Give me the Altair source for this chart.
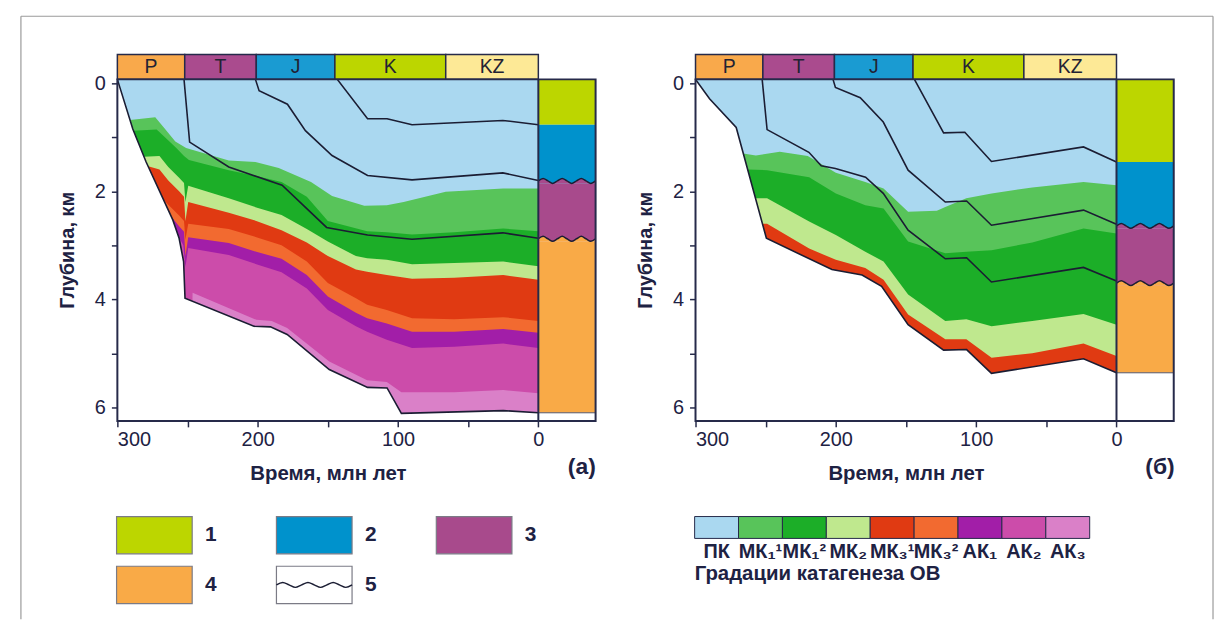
import altair as alt
import pandas as pd

# ----------------------------------------------------------------- axes extents
T_MAX = 300.0      # Ma, left end of time axis
T_COL = -40.8      # right edge of the stratigraphic column (in Ma units)
D_TOP = -0.07      # km, top edge of the depth axis (surface)
D_BOT = 6.25       # km, bottom edge of the depth axis
AMP = 0.045        # km, half-height of the wavy unconformity line

# ----------------------------------------------------------------- periods
PERIODS = ["P", "T", "J", "K", "KZ"]
PERIOD_FROM = [300, 252, 201, 145, 66]
PERIOD_TO = [252, 201, 145, 66, 0]
PERIOD_COLORS = ["#f9a94b", "#aa4b8e", "#1a9bd2", "#bcd600", "#fde996"]

# ----------------------------------------------------------------- catagenesis grades
ZONES = ["ПК", "МК₁¹", "МК₁²", "МК₂", "МК₃¹", "МК₃²", "АК₁", "АК₂", "АК₃"]
ZONE_COLORS = ["#aad8f0", "#58c45a", "#1cae28", "#bfe88e", "#e03a12",
               "#f26a30", "#a21ea8", "#cc4caa", "#da80c8"]

# ----------------------------------------------------------------- lithology legend
UNIT_LABELS = ["1", "2", "3", "4", "5"]
UNIT_COLORS = ["#bcd600", "#0092cc", "#a84a8c", "#f9aa47", "#ffffff"]

# ----------------------------------------------------------------- panel (а)
A_BASE_P = [(300, D_TOP), (289, 0.85), (279.5, 1.46), (260.5, 2.53), (256, 2.87),
            (252.8, 3.3), (251.8, 3.98), (202.7, 4.5), (190.9, 4.51), (179, 4.65),
            (149, 5.3), (121.7, 5.63), (107.8, 5.64), (97.6, 6.11), (25, 6.06), (0, 6.1)]
A_BASE_T = [(252.5, D_TOP), (248.5, 1.09), (220.6, 1.55), (182.6, 1.89), (150.9, 2.67),
            (121.7, 2.81), (90, 2.89), (25.3, 2.77), (0, 2.87)]
A_BASE_J = [(201.6, D_TOP), (199, 0.14), (178.8, 0.39), (166, 0.88), (147, 1.34),
            (121.7, 1.71), (90, 1.79), (25.3, 1.66), (0, 1.8)]
A_BASE_K = [(143.3, D_TOP), (121.7, 0.66), (107.8, 0.66), (90, 0.77), (25.3, 0.69), (0, 0.77)]
A_ZONE_TOPS = [
    [(300, D_TOP), (0, D_TOP)],
    [(291, 0.68), (273, 0.63), (266, 0.85), (258.7, 1.08), (251, 1.2), (220.6, 1.43),
     (201.6, 1.46), (185, 1.57), (162, 1.83), (147, 2.09), (124, 2.27), (108, 2.26),
     (96, 2.2), (66, 2.01), (25, 1.95), (0, 1.95)],
    [(288.6, 0.88), (272, 0.86), (264, 1.05), (258, 1.2), (252.5, 1.35), (249, 1.42),
     (220.6, 1.61), (201, 1.72), (183, 1.83), (165, 2.1), (150, 2.55), (122, 2.74),
     (108, 2.76), (90, 2.8), (60, 2.76), (25, 2.69), (0, 2.74)],
    [(281, 1.36), (270, 1.35), (263.7, 1.55), (256, 1.75), (252.5, 1.85), (251.5, 2.2),
     (249.5, 1.9), (220.6, 2.13), (201, 2.3), (183, 2.44), (165, 2.7), (150, 2.93),
     (130, 3.2), (122, 3.24), (108, 3.27), (90, 3.35), (60, 3.33), (25, 3.3), (0, 3.39)],
    [(278, 1.54), (270, 1.6), (263.7, 1.8), (256, 2.0), (252.5, 2.1), (251.5, 2.55),
     (249.5, 2.2), (220.6, 2.4), (201, 2.55), (183, 2.72), (165, 2.95), (150, 3.2),
     (130, 3.45), (122, 3.49), (108, 3.55), (90, 3.62), (60, 3.6), (25, 3.55), (0, 3.64)],
    [(267, 2.16), (263.7, 2.25), (256, 2.45), (252.5, 2.55), (251.5, 2.9), (249.5, 2.6),
     (220.6, 2.7), (201, 2.85), (183, 3.0), (165, 3.3), (150, 3.7), (130, 3.98),
     (122, 4.1), (108, 4.2), (90, 4.35), (60, 4.37), (25, 4.33), (0, 4.4)],
    [(261.5, 2.47), (256, 2.65), (252.5, 2.75), (251.5, 3.2), (249.5, 2.85), (220.6, 2.96),
     (201, 3.12), (183, 3.25), (165, 3.55), (150, 3.95), (130, 4.25), (122, 4.35),
     (108, 4.45), (90, 4.6), (60, 4.6), (25, 4.55), (0, 4.62)],
    [(256.5, 2.83), (253, 3.0), (251.5, 3.4), (249.5, 3.05), (220.6, 3.18), (201, 3.35),
     (183, 3.5), (165, 3.8), (150, 4.2), (130, 4.5), (122, 4.6), (108, 4.75), (90, 4.9),
     (60, 4.88), (25, 4.82), (0, 4.9)],
    [(246.5, 4.03), (246.4, 3.88), (201, 4.38), (190, 4.4), (179, 4.53), (149, 5.15),
     (122, 5.5), (108, 5.53), (97.6, 5.72), (60, 5.72), (25, 5.68), (0, 5.74)],
]
A_UNITS = [D_TOP, 0.77, 1.81, 2.88, 6.1]
A_WAVY = [False, True, True]

# ----------------------------------------------------------------- panel (б)
B_BASE_P = [(300, D_TOP), (290, 0.29), (271, 0.82), (249.5, 2.87), (202.8, 3.45),
            (181.3, 3.55), (167.4, 3.76), (148.5, 4.47), (123.2, 4.94), (106.8, 4.93),
            (89.1, 5.37), (23.5, 5.1), (0, 5.36)]
B_BASE_T = [(252.5, D_TOP), (249, 0.86), (219.2, 1.28), (210.4, 1.53), (200.3, 1.58),
            (178.8, 1.74), (166.2, 2.04), (148.5, 2.72), (122, 3.25), (106.8, 3.23),
            (89.1, 3.68), (23.5, 3.41), (0, 3.66)]
B_BASE_J = [(202, D_TOP), (200.3, 0.08), (182.6, 0.27), (166.2, 0.72), (148.5, 1.61),
            (122, 2.2), (106.8, 2.18), (89.1, 2.63), (23.5, 2.35), (0, 2.61)]
B_BASE_K = [(144, D_TOP), (123.2, 0.92), (108.1, 0.91), (89.1, 1.45), (23.5, 1.18), (0, 1.46)]
B_ZONE_TOPS = [
    [(300, D_TOP), (0, D_TOP)],
    [(266, 1.3), (257, 1.34), (240, 1.27), (220, 1.35), (200, 1.66), (179, 1.83),
     (166, 1.95), (148.5, 2.38), (128, 2.36), (122, 2.29), (107, 2.13), (89, 2.04),
     (60, 1.93), (23.5, 1.83), (0, 1.89)],
    [(262.8, 1.6), (249, 1.61), (219, 1.74), (200, 2.04), (179, 2.26), (166, 2.32),
     (148.5, 2.93), (122, 3.15), (107, 3.12), (89, 3.09), (60, 2.95), (23.5, 2.69), (0, 2.78)],
    [(257.3, 2.13), (249, 2.13), (219, 2.56), (200, 2.81), (179, 3.12), (166, 3.3),
     (148.5, 3.91), (122, 4.4), (107, 4.37), (89, 4.5), (60, 4.4), (23.5, 4.27), (0, 4.47)],
    [(252.3, 2.6), (249, 2.6), (219, 3.06), (200, 3.27), (179, 3.42), (166, 3.64),
     (148.5, 4.28), (122, 4.74), (107, 4.74), (89, 5.08), (60, 5.0), (23.5, 4.82), (0, 5.05)],
]
B_UNITS = [D_TOP, 1.46, 2.64, 3.7, 5.36]
B_WAVY = [False, True, True]

# ----------------------------------------------------------------- wavy line pattern
WAVE_U = [0, 0.083, 0.167, 0.25, 0.333, 0.417, 0.5, 0.583, 0.667, 0.75, 0.833, 0.917, 1.0]
WAVE_V = [0, -1, 0, 1, 0, -1, 0, 1, 0, -1, 0, 1, 0]

# ----------------------------------------------------------------- styles
FONT = "Liberation Sans"
NAVY = "#262a4a"
INK = "#1e2243"
LINE = "#1b1d33"
W = 481
H_MAIN = 343.5
H_PER = 25
H_LEG = 190


def pts(lst, **extra):
    return pd.DataFrame([dict(t=t, d=d, **extra) for t, d in lst])


def xscale():
    return alt.Scale(domain=[T_COL, T_MAX], reverse=True, nice=False, zero=False)


def yscale():
    return alt.Scale(domain=[D_TOP, D_BOT], reverse=True, nice=False, zero=False)


X_AXIS = alt.Axis(values=[300, 250, 200, 150, 100, 50, 0],
                  labelExpr="datum.value % 100 == 0 ? datum.label : ''",
                  title="Время, млн лет", domain=False, grid=False,
                  tickSize=6, tickWidth=1.5, tickColor=NAVY,
                  labelFont=FONT, labelFontSize=20, labelColor=INK, labelPadding=3,
                  labelFlush=True,
                  titleFont=FONT, titleFontSize=20.5, titleFontWeight="bold", titleColor=INK,
                  titleX=211.7, titleY=58.5, titleAlign="center", titleBaseline="alphabetic")
Y_AXIS = alt.Axis(values=[0, 1, 2, 3, 4, 5, 6],
                  labelExpr="datum.value % 2 == 0 ? datum.label : ''",
                  title="Глубина, км", domain=False, grid=False,
                  tickSize=6, tickWidth=1.5, tickColor=NAVY,
                  labelFont=FONT, labelFontSize=20, labelColor=INK, labelPadding=6,
                  labelFlush=False,
                  titleFont=FONT, titleFontSize=20, titleFontWeight="bold", titleColor=INK,
                  titleAngle=270, titleX=-44.5, titleY=171.5, titleAlign="center",
                  titleBaseline="alphabetic")


def X(f="t"):
    return alt.X(f"{f}:Q", scale=xscale(), axis=X_AXIS)


def Y(f="d"):
    return alt.Y(f"{f}:Q", scale=yscale(), axis=Y_AXIS)


def main_panel(zone_tops, base_p, horizons, units, wavy, letter):
    layers = []
    # catagenesis zones, painted from top to bottom
    for i, top in enumerate(zone_tops):
        df = pts(top)
        df["d2"] = D_BOT
        layers.append(alt.Chart(df).mark_area(color=ZONE_COLORS[i], clip=True)
                      .encode(x=X(), y=Y(), y2="d2:Q"))
    # everything below the basement burial curve is white
    mask = pts(base_p)
    mask["d2"] = D_BOT
    layers.append(alt.Chart(mask).mark_area(color="white", clip=True)
                  .encode(x=X(), y=Y(), y2="d2:Q"))
    # stratigraphic column
    rows = []
    for k in range(4):
        top = units[k] + (AMP if k > 0 and wavy[k - 1] else 0)
        bot = units[k + 1] + (AMP if k < 3 and wavy[k] else 0)
        rows.append(dict(t=0, t2=T_COL, d=top, d2=bot, c=UNIT_COLORS[k]))
    col_df = pd.DataFrame(rows)
    layers.append(alt.Chart(col_df).mark_rect()
                  .encode(x=X(), x2="t2:Q", y=Y(), y2="d2:Q",
                          color=alt.Color("c:N", scale=None)))
    wave_rows = []
    for k in range(3):
        if wavy[k]:
            lvl = units[k + 1]
            for u, v in zip(WAVE_U, WAVE_V):
                wave_rows.append(dict(t=u * T_COL, d=lvl + v * AMP, d2=lvl + AMP,
                                      c=UNIT_COLORS[k + 1], g=k))
    wave_df = pd.DataFrame(wave_rows)
    layers.append(alt.Chart(wave_df).mark_area(interpolate="monotone")
                  .encode(x=X(), y=Y(), y2="d2:Q", color=alt.Color("c:N", scale=None),
                          detail="g:N"))
    layers.append(alt.Chart(wave_df).mark_line(interpolate="monotone", color=LINE,
                                               strokeWidth=1.5)
                  .encode(x=X(), y=Y(), detail="g:N"))
    # bottom edge of the column
    cb = pd.DataFrame([dict(t=0, t2=T_COL, d=units[-1])])
    layers.append(alt.Chart(cb).mark_rule(color="#555a70", strokeWidth=1)
                  .encode(x=X(), x2="t2:Q", y=Y()))
    # burial curves
    hz = pd.concat([pts(base_p, h="P")] + [pts(h, h=n) for n, h in horizons])
    layers.append(alt.Chart(hz).mark_line(color=LINE, strokeWidth=1.6, clip=True)
                  .encode(x=X(), y=Y(), detail="h:N"))
    # separator between plot and column and the outer frame
    sep = pd.DataFrame([dict(t=0, d=D_TOP, d2=D_BOT)])
    layers.append(alt.Chart(sep).mark_rule(color=NAVY, strokeWidth=2)
                  .encode(x=X(), y=Y(), y2="d2:Q"))
    fr = pd.DataFrame([dict(t=T_MAX, t2=T_COL, d=D_TOP, d2=D_BOT)])
    layers.append(alt.Chart(fr).mark_rect(fillOpacity=0, stroke=NAVY, strokeWidth=2)
                  .encode(x=X(), x2="t2:Q", y=Y(), y2="d2:Q"))
    # panel letter
    lab = pd.DataFrame([dict(t=-31, d=7.1, s=letter)])
    layers.append(alt.Chart(lab).mark_text(font=FONT, fontSize=23, fontWeight="bold",
                                           color=INK, baseline="middle")
                  .encode(x=X(), y=Y(), text="s:N"))
    return alt.layer(*layers).properties(width=W, height=H_MAIN)


def period_panel(with_frame):
    df = pd.DataFrame({"name": PERIODS, "t": PERIOD_FROM, "t2": PERIOD_TO, "c": PERIOD_COLORS})
    df["mid"] = (df["t"] + df["t2"]) / 2
    base = alt.Chart(df)
    rects = base.mark_rect(stroke=NAVY, strokeWidth=1.5).encode(
        x=alt.X("t:Q", scale=xscale(), axis=None), x2="t2:Q",
        color=alt.Color("c:N", scale=None))
    texts = base.mark_text(font=FONT, fontSize=19.5, color="#222233").encode(
        x=alt.X("mid:Q", scale=xscale(), axis=None), text="name:N")
    layers = [rects, texts]
    if with_frame:
        one = alt.Chart(pd.DataFrame({"k": [0]}))
        st = dict(color="#9a9a9a", strokeWidth=1.2)
        layers += [
            one.mark_rule(**st).encode(x=alt.value(-97), y=alt.value(-38.5), y2=alt.value(568)),
            one.mark_rule(**st).encode(x=alt.value(-97), x2=alt.value(1102), y=alt.value(-38.5)),
            one.mark_rule(**st).encode(x=alt.value(1102), y=alt.value(-38.5), y2=alt.value(568)),
        ]
    return alt.layer(*layers).properties(width=W, height=H_PER)


LEG_Y = alt.Scale(domain=[0, H_LEG / 50], reverse=True, nice=False, zero=False)


def legend_units():
    step = 160.8
    rows = []
    for i, (lab, c) in enumerate(zip(UNIT_LABELS, UNIT_COLORS)):
        col, row = i % 3, i // 3
        rows.append(dict(lab=lab, c=c, x=col - 0.005, x2=col + 0.468,
                         y=1.914 + row, y2=1.914 + row + 0.75,
                         lx=col + 0.585, ly=1.914 + row + 0.375))
    df = pd.DataFrame(rows)
    xs = alt.Scale(domain=[0, W / step], nice=False, zero=False)
    rects = alt.Chart(df).mark_rect(stroke="#7b7b86", strokeWidth=1.2).encode(
        x=alt.X("x:Q", scale=xs, axis=None), x2="x2:Q",
        y=alt.Y("y:Q", scale=LEG_Y, axis=None), y2="y2:Q",
        color=alt.Color("c:N", scale=None))
    texts = alt.Chart(df).mark_text(font=FONT, fontSize=21, fontWeight="bold", color=INK,
                                    baseline="middle").encode(
        x=alt.X("lx:Q", scale=xs, axis=None), y=alt.Y("ly:Q", scale=LEG_Y, axis=None),
        text="lab:N")
    wave = pd.DataFrame([dict(x=1 - 0.005 + u * 0.473, y=2.914 + 0.375 + v * 0.05)
                         for u, v in zip(WAVE_U, WAVE_V)])
    wl = alt.Chart(wave).mark_line(interpolate="monotone", color=LINE, strokeWidth=1.5).encode(
        x=alt.X("x:Q", scale=xs, axis=None), y=alt.Y("y:Q", scale=LEG_Y, axis=None))
    return alt.layer(rects, wl, texts).properties(width=W, height=H_LEG)


def legend_zones():
    step = 44.15
    df = pd.DataFrame({"z": ZONES, "c": ZONE_COLORS})
    df["x"] = [i - 0.02 for i in range(len(ZONES))]
    df["x2"] = df["x"] + 1
    df["lx"] = df["x"] + 0.5
    df["y"] = 1.914
    df["y2"] = 1.914 + 0.44
    df["ly"] = 2.634
    xs = alt.Scale(domain=[0, W / step], nice=False, zero=False)
    rects = alt.Chart(df).mark_rect(stroke=NAVY, strokeWidth=1).encode(
        x=alt.X("x:Q", scale=xs, axis=None), x2="x2:Q",
        y=alt.Y("y:Q", scale=LEG_Y, axis=None), y2="y2:Q",
        color=alt.Color("c:N", scale=None))
    texts = alt.Chart(df).mark_text(font=FONT, fontSize=20, fontWeight="bold", color=INK,
                                    baseline="middle").encode(
        x=alt.X("lx:Q", scale=xs, axis=None), y=alt.Y("ly:Q", scale=LEG_Y, axis=None),
        text="z:N")
    tdf = pd.DataFrame([dict(x=-0.02, y=3.08, s="Градации катагенеза ОВ")])
    title = alt.Chart(tdf).mark_text(font=FONT, fontSize=20.5, fontWeight="bold", color=INK,
                                     align="left", baseline="middle").encode(
        x=alt.X("x:Q", scale=xs, axis=None), y=alt.Y("y:Q", scale=LEG_Y, axis=None),
        text="s:N")
    return alt.layer(rects, texts, title).properties(width=W, height=H_LEG)


panel_a = main_panel(A_ZONE_TOPS, A_BASE_P,
                     [("T", A_BASE_T), ("J", A_BASE_J), ("K", A_BASE_K)],
                     A_UNITS, A_WAVY, "(а)")
panel_b = main_panel(B_ZONE_TOPS[:5], B_BASE_P,
                     [("T", B_BASE_T), ("J", B_BASE_J), ("K", B_BASE_K)],
                     B_UNITS, B_WAVY, "(б)")

chart = alt.concat(
    period_panel(True), period_panel(False),
    panel_a, panel_b,
    legend_units(), legend_zones(),
    columns=2, spacing={"row": 0, "column": 100.5}, bounds="flush", align="each",
    padding={"left": 11, "top": 5, "right": 0, "bottom": 0},
).configure(font=FONT).configure_view(stroke="transparent")

chart.save("out.html", embed_options={"renderer": "svg", "actions": False})
